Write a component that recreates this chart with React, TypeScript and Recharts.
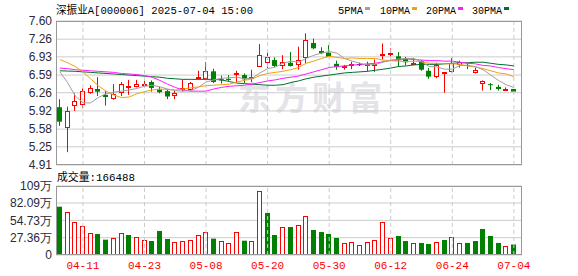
import React from 'react';
import { ComposedChart, Bar, Line, XAxis, YAxis, CartesianGrid, ReferenceLine } from 'recharts';

const dates = [
  '04-08', '04-09', '04-10', '04-11', '04-14', '04-15', '04-16', '04-17', '04-18', '04-21',
  '04-22', '04-23', '04-24', '04-25', '04-28', '04-29', '04-30', '05-06', '05-07', '05-08',
  '05-09', '05-12', '05-13', '05-14', '05-15', '05-16', '05-19', '05-20', '05-21', '05-22',
  '05-23', '05-26', '05-27', '05-28', '05-29', '05-30', '06-03', '06-04', '06-05', '06-06',
  '06-09', '06-10', '06-11', '06-12', '06-13', '06-16', '06-17', '06-18', '06-19', '06-20',
  '06-23', '06-24', '06-25', '06-26', '06-27', '06-30', '07-01', '07-02', '07-03', '07-04',
];

const opens = [
  5.99, 5.61, 6.01, 6.04, 6.25, 6.33, 6.22, 6.14, 6.25, 6.34,
  6.36, 6.39, 6.46, 6.32, 6.29, 6.19, 6.31, 6.31, 6.55, 6.52,
  6.66, 6.51, 6.52, 6.59, 6.59, 6.53, 6.75, 6.81, 6.87, 6.76,
  6.82, 6.77, 6.90, 7.19, 7.04, 7.01, 6.80, 6.74, 6.77, 6.80,
  6.78, 6.76, 6.94, 6.98, 6.94, 6.90, 6.78, 6.85, 6.67, 6.55,
  6.62, 6.64, 6.78, 6.78, 6.62, 6.42, 6.42, 6.37, 6.31, 6.33,
];
const highs = [
  6.14, 6.00, 6.25, 6.34, 6.40, 6.55, 6.29, 6.42, 6.46, 6.50,
  6.50, 6.48, 6.49, 6.37, 6.32, 6.31, 6.50, 6.46, 6.67, 6.83,
  6.71, 6.58, 6.59, 6.67, 6.62, 6.69, 7.17, 7.02, 6.92, 6.96,
  7.02, 7.12, 7.37, 7.27, 7.11, 7.15, 6.86, 6.78, 6.84, 6.82,
  6.84, 6.88, 7.18, 7.09, 7.02, 6.93, 6.91, 6.87, 6.72, 6.82,
  6.65, 6.91, 6.86, 6.82, 6.73, 6.49, 6.44, 6.41, 6.36, 6.33,
];
const lows = [
  5.64, 5.15, 5.92, 5.97, 6.24, 6.20, 6.02, 6.13, 6.20, 6.22,
  6.36, 6.37, 6.28, 6.25, 6.14, 6.14, 6.28, 6.30, 6.51, 6.52,
  6.44, 6.43, 6.48, 6.45, 6.44, 6.46, 6.75, 6.72, 6.74, 6.70,
  6.75, 6.69, 6.81, 7.07, 6.98, 6.93, 6.69, 6.69, 6.70, 6.76,
  6.66, 6.65, 6.88, 6.92, 6.75, 6.77, 6.78, 6.67, 6.52, 6.53,
  6.26, 6.64, 6.73, 6.70, 6.62, 6.30, 6.31, 6.30, 6.31, 6.28,
];
const closes = [
  5.72, 5.92, 6.10, 6.29, 6.34, 6.28, 6.18, 6.24, 6.42, 6.39,
  6.42, 6.42, 6.35, 6.27, 6.19, 6.26, 6.35, 6.45, 6.56, 6.67,
  6.46, 6.49, 6.50, 6.62, 6.51, 6.55, 6.96, 6.92, 6.76, 6.84,
  6.76, 6.88, 7.25, 7.09, 7.00, 6.93, 6.74, 6.76, 6.80, 6.80,
  6.79, 6.79, 6.98, 7.01, 6.87, 6.83, 6.82, 6.69, 6.56, 6.78,
  6.65, 6.81, 6.84, 6.76, 6.69, 6.47, 6.41, 6.33, 6.33, 6.28,
];

const ma5 = [
  6.65, 6.45, 6.20, 6.07, 6.07, 6.17, 6.24, 6.27, 6.29, 6.31,
  6.34, 6.38, 6.40, 6.37, 6.33, 6.30, 6.29, 6.30, 6.36, 6.46,
  6.50, 6.53, 6.54, 6.55, 6.52, 6.53, 6.63, 6.71, 6.74, 6.81,
  6.85, 6.83, 6.90, 6.96, 7.00, 7.03, 7.00, 6.90, 6.85, 6.81,
  6.78, 6.79, 6.83, 6.87, 6.89, 6.90, 6.90, 6.84, 6.75, 6.74,
  6.70, 6.70, 6.77, 6.77, 6.75, 6.69, 6.59, 6.49, 6.41, 6.36,
];
const ma10 = [
  6.88, 6.82, 6.75, 6.65, 6.52, 6.39, 6.29, 6.22, 6.17, 6.18,
  6.24, 6.28, 6.31, 6.33, 6.32, 6.31, 6.33, 6.35, 6.37, 6.39,
  6.40, 6.41, 6.42, 6.46, 6.49, 6.52, 6.58, 6.62, 6.64, 6.66,
  6.69, 6.73, 6.81, 6.85, 6.90, 6.94, 6.92, 6.90, 6.91, 6.90,
  6.90, 6.90, 6.87, 6.86, 6.85, 6.84, 6.85, 6.84, 6.81, 6.81,
  6.80, 6.80, 6.79, 6.76, 6.74, 6.71, 6.67, 6.63, 6.61, 6.56,
];
const ma20 = [
  6.72, 6.71, 6.69, 6.68, 6.67, 6.66, 6.65, 6.64, 6.62, 6.61,
  6.60, 6.58, 6.55, 6.49, 6.42, 6.36, 6.31, 6.29, 6.29, 6.29,
  6.33, 6.36, 6.38, 6.39, 6.40, 6.42, 6.45, 6.48, 6.50, 6.53,
  6.55, 6.57, 6.61, 6.65, 6.69, 6.73, 6.75, 6.76, 6.78, 6.78,
  6.80, 6.81, 6.84, 6.86, 6.87, 6.89, 6.88, 6.87, 6.86, 6.86,
  6.85, 6.85, 6.83, 6.81, 6.80, 6.77, 6.76, 6.73, 6.71, 6.69,
];
const ma30 = [
  6.67, 6.665, 6.66, 6.65, 6.64, 6.63, 6.62, 6.61, 6.60, 6.59,
  6.58, 6.57, 6.56, 6.55, 6.53, 6.52, 6.51, 6.51, 6.51, 6.51,
  6.51, 6.50, 6.47, 6.44, 6.43, 6.42, 6.41, 6.40, 6.40, 6.41,
  6.45, 6.48, 6.52, 6.55, 6.57, 6.59, 6.61, 6.63, 6.64, 6.65,
  6.66, 6.68, 6.70, 6.72, 6.75, 6.76, 6.78, 6.79, 6.79, 6.79,
  6.80, 6.81, 6.82, 6.82, 6.83, 6.83, 6.81, 6.79, 6.78, 6.76,
];

// volume in 万 (10k shares)
const volumes = [
  76.3, 68.0, 52.0, 45.8, 34.8, 33.2, 24.2, 26.8, 34.8, 31.6,
  28.4, 23.7, 22.1, 37.9, 25.3, 20.5, 22.1, 23.7, 31.6, 36.3,
  25.8, 22.1, 19.0, 36.3, 22.6, 22.1, 101.1, 66.4, 31.6, 44.2,
  44.2, 47.4, 61.6, 39.5, 36.3, 33.2, 26.9, 19.0, 20.5, 15.8,
  20.5, 23.7, 52.1, 26.9, 30.0, 22.1, 19.0, 19.0, 17.4, 20.5,
  23.7, 28.4, 19.0, 19.0, 22.1, 41.1, 30.0, 19.0, 14.2, 16.6,
];
// 1 = up day (red), 0 = down day (green)
const volUp = [
  0, 1, 1, 1, 1, 0, 0, 1, 1, 0,
  1, 1, 0, 0, 0, 1, 1, 1, 1, 1,
  0, 1, 1, 1, 0, 1, 1, 0, 0, 1,
  0, 1, 1, 0, 0, 0, 0, 1, 1, 1,
  1, 1, 1, 1, 0, 0, 1, 0, 0, 1,
  0, 1, 1, 0, 0, 0, 0, 0, 1, 0,
];

const priceTicks = [7.6, 7.26, 6.93, 6.59, 6.26, 5.92, 5.58, 5.25, 4.91];
const volTicks = [0, 27.36, 54.73, 82.09, 109];
const dateTicks = ['04-11', '04-23', '05-08', '05-20', '05-30', '06-12', '06-24', '07-04'];

const title = '深振业A[000006] 2025-07-04 15:00';
const volLabel = '成交量:166488';
const legendItems = [
  { name: '5PMA', color: '#a0a0a0' },
  { name: '10PMA', color: '#f4a20c' },
  { name: '20PMA', color: '#ff1cff' },
  { name: '30PMA', color: '#00702c' },
];

const priceData = dates.map((d, i) => ({
  date: d,
  open: opens[i],
  high: highs[i],
  low: lows[i],
  close: closes[i],
  ma5: ma5[i],
  ma10: ma10[i],
  ma20: ma20[i],
  ma30: ma30[i],
}));
const volData = dates.map((d, i) => ({ date: d, vol: volumes[i], up: volUp[i] }));

const RED = '#ff0000';
const GREEN = '#008000';
const GRID = '#cccccc';
const BORDER = '#999999';
const LABEL = '#2a2a3a';

function CandleShape(props: any) {
  const { x, y, width, height, payload } = props;
  if (x == null || payload == null) return null;
  const { open, close, high, low } = payload;
  const span = high - low;
  const py = (v: number) => (span > 0 ? y + ((high - v) / span) * height : y);
  const cx = Math.floor(x + width / 2) + 0.5;
  const yHigh = py(high);
  const yLow = py(low);
  const top = py(Math.max(open, close));
  const bot = py(Math.min(open, close));
  if (close > open) {
    const t = Math.round(top) + 0.5;
    const b = Math.max(Math.round(bot) - 0.5, t + 1);
    return (
      <g>
        <line x1={cx} x2={cx} y1={yHigh} y2={t} stroke={RED} strokeWidth={1} />
        <line x1={cx} x2={cx} y1={b} y2={yLow} stroke={RED} strokeWidth={1} />
        <rect x={cx - 2} y={t} width={4} height={b - t} fill="#ffffff" stroke={RED} strokeWidth={1} />
      </g>
    );
  }
  if (close < open) {
    return (
      <g>
        <line x1={cx} x2={cx} y1={yHigh} y2={yLow} stroke={GREEN} strokeWidth={1} />
        <rect x={cx - 2.5} y={top} width={5} height={Math.max(bot - top, 1)} fill={GREEN} />
      </g>
    );
  }
  const yy = Math.round(top) + 0.5;
  return (
    <g>
      <line x1={cx} x2={cx} y1={yHigh} y2={yLow} stroke="#222" strokeWidth={1} />
      <line x1={cx - 2.5} x2={cx + 2.5} y1={yy} y2={yy} stroke="#222" strokeWidth={1} />
    </g>
  );
}

function VolShape(props: any) {
  const { x, y, width, height, payload } = props;
  if (x == null || payload == null) return null;
  const cx = Math.floor(x + width / 2) + 0.5;
  const bottom = y + height;
  if (payload.up) {
    const t = Math.round(y) + 0.5;
    return (
      <rect x={cx - 2} y={t} width={4} height={Math.max(bottom - 0.5 - t, 1)} fill="#ffffff" stroke={RED} strokeWidth={1} />
    );
  }
  return <rect x={cx - 2.5} y={y} width={5} height={height} fill={GREEN} />;
}

const monoFont = '"Liberation Mono", "Noto Sans CJK SC", monospace';
const axisFont = '"Liberation Sans", Arial, sans-serif';

export default function App() {
  return (
    <div style={{ position: 'absolute', left: 0, top: 0, width: 578, height: 276, background: '#fff' }}>
      <svg width={578} height={276} style={{ position: 'absolute', left: 0, top: 0 }}>
        <text
          x={238}
          y={110}
          fontSize={33}
          fontWeight={700}
          fill="#e3e3e8"
          letterSpacing={4}
          fontFamily='"Noto Sans CJK SC", sans-serif'
        >
          东方财富
        </text>
      </svg>

      <div style={{ position: 'absolute', left: 0, top: 0 }}>
        <ComposedChart
          width={578}
          height={180}
          data={priceData}
          margin={{ top: 21, right: 56, bottom: 15, left: 0 }}
        >
          <CartesianGrid vertical={false} stroke={GRID} />
          <XAxis dataKey="date" hide padding={{ left: 0, right: 4.3 }} />
          <YAxis
            type="number"
            domain={[4.91, 7.6]}
            ticks={priceTicks}
            interval={0}
            allowDataOverflow
            width={56}
            axisLine={false}
            tickLine={false}
            tickSize={0}
            tickMargin={4}
            tickFormatter={(v: number) => v.toFixed(2)}
            tick={{ fontSize: 12, fill: LABEL, fontFamily: axisFont }}
          />
          {dateTicks.map((d) => (
            <ReferenceLine key={d} x={d} stroke={GRID} strokeDasharray="4 3" />
          ))}
          <Bar
            dataKey={(d: any) => [d.low, d.high]}
            barSize={5}
            shape={CandleShape}
            isAnimationActive={false}
          />
          <Line type="linear" dataKey="ma30" stroke="#00702c" strokeWidth={1} dot={false} activeDot={false} isAnimationActive={false} />
          <Line type="linear" dataKey="ma20" stroke="#ff1cff" strokeWidth={1} dot={false} activeDot={false} isAnimationActive={false} />
          <Line type="linear" dataKey="ma10" stroke="#f4a20c" strokeWidth={1} dot={false} activeDot={false} isAnimationActive={false} />
          <Line type="linear" dataKey="ma5" stroke="#a0a0a0" strokeWidth={1} dot={false} activeDot={false} isAnimationActive={false} />
        </ComposedChart>
      </div>

      <div style={{ position: 'absolute', left: 0, top: 170 }}>
        <ComposedChart
          width={578}
          height={106}
          data={volData}
          margin={{ top: 16, right: 56, bottom: 0, left: 0 }}
        >
          <CartesianGrid vertical={false} stroke={GRID} />
          <XAxis
            dataKey="date"
            ticks={dateTicks}
            interval={0}
            height={21}
            padding={{ left: 0, right: 4.3 }}
            axisLine={false}
            tickLine={false}
            tickSize={0}
            tickMargin={6}
            tick={{ fontSize: 11, fill: RED, fontFamily: monoFont }}
          />
          <YAxis
            type="number"
            domain={[0, 109]}
            ticks={volTicks}
            interval={0}
            allowDataOverflow
            width={56}
            axisLine={false}
            tickLine={false}
            tickSize={0}
            tickMargin={4}
            tickFormatter={(v: number) => (v === 0 ? '0' : `${v}万`)}
            tick={{ fontSize: 12, fill: LABEL, fontFamily: axisFont }}
          />
          {dateTicks.map((d) => (
            <ReferenceLine key={d} x={d} stroke={GRID} strokeDasharray="4 3" />
          ))}
          <Bar dataKey="vol" barSize={5} shape={VolShape} isAnimationActive={false} />
        </ComposedChart>
      </div>

      <svg width={578} height={276} style={{ position: 'absolute', left: 0, top: 0, pointerEvents: 'none' }}>
        <rect x={56.5} y={21.5} width={465} height={143} fill="none" stroke={BORDER} strokeWidth={1} />
        <rect x={56.5} y={186.5} width={465} height={68} fill="none" stroke={BORDER} strokeWidth={1} />
        <text x={56} y={14} fontSize={11} fill="#000" fontFamily={monoFont} textLength={197} lengthAdjust="spacingAndGlyphs">
          {title}
        </text>
        <text x={57} y={181} fontSize={11} fill="#000" fontFamily={monoFont} textLength={78} lengthAdjust="spacingAndGlyphs">
          {volLabel}
        </text>
        {legendItems.map((it, k) => {
          const starts = [338, 380, 426, 472];
          const widths = [25, 30, 30, 30];
          const sx = starts[k];
          return (
            <g key={it.name}>
              <text x={sx} y={14} fontSize={11} fill="#000" fontFamily={monoFont} textLength={widths[k]} lengthAdjust="spacingAndGlyphs">
                {it.name}
              </text>
              <rect x={sx + widths[k] + 2} y={7} width={5} height={3} fill={it.color} />
            </g>
          );
        })}
      </svg>
    </div>
  );
}
